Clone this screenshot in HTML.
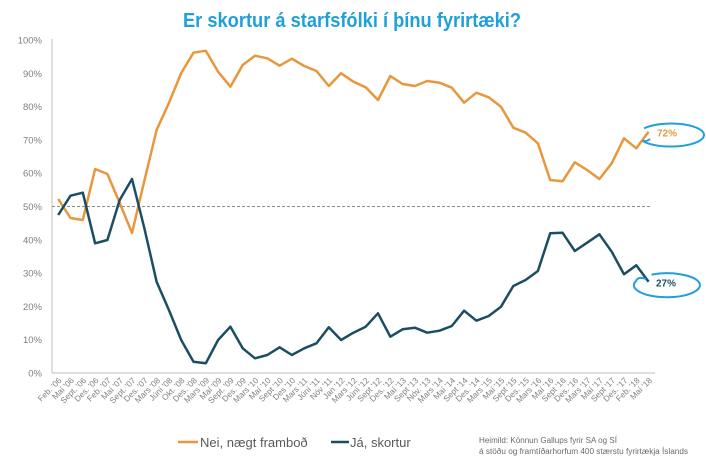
<!DOCTYPE html>
<html>
<head>
<meta charset="utf-8">
<style>
  html,body{margin:0;padding:0;background:#fff;}
  svg{display:block;}
  text{font-family:"Liberation Sans",sans-serif;}
</style>
</head>
<body>
<svg width="706" height="465" viewBox="0 0 706 465" xmlns="http://www.w3.org/2000/svg">
  <rect width="706" height="465" fill="#fff"/>
  <!-- Title -->
  <text x="352" y="27" text-anchor="middle" font-size="20" font-weight="bold" fill="#1fa0d8" textLength="338" lengthAdjust="spacingAndGlyphs">Er skortur á starfsfólki í þínu fyrirtæki?</text>

  <!-- Y axis labels -->
  <g font-size="9.5" fill="#7f7f7f" text-anchor="end">
    <text x="42" y="43.5">100%</text>
    <text x="42" y="76.8">90%</text>
    <text x="42" y="110.1">80%</text>
    <text x="42" y="143.4">70%</text>
    <text x="42" y="176.7">60%</text>
    <text x="42" y="210">50%</text>
    <text x="42" y="243.3">40%</text>
    <text x="42" y="276.6">30%</text>
    <text x="42" y="309.9">20%</text>
    <text x="42" y="343.2">10%</text>
    <text x="42" y="376.5">0%</text>
  </g>

  <!-- axes -->
  <line x1="52" y1="39" x2="52" y2="373" stroke="#bfbfbf" stroke-width="1"/>
  <line x1="52" y1="373" x2="655" y2="373" stroke="#bfbfbf" stroke-width="1"/>
  <!-- 50% dashed -->
  <line x1="52" y1="206.5" x2="651" y2="206.5" stroke="#8c8c8c" stroke-width="1" stroke-dasharray="3,2"/>

  <!-- Orange series -->
  <polyline fill="none" stroke="#e8973c" stroke-width="2.5" stroke-linejoin="round" points="
58.2,199 70.5,218 82.8,220 95.1,169 107.4,174 119.7,203 132,233 144.3,181 156.6,130 168.9,103
181.2,73 193.5,52.7 205.8,50.7 218.1,71.7 230.4,86.7 242.7,65 255,55.7 267.3,58.3 279.6,65.7 291.9,58.7
304.2,66 316.5,71 328.8,86 341.1,73.3 353.4,81.7 365.7,87.3 378,100 390.3,76 402.6,84 414.9,86
427.2,81 439.5,82.7 451.8,87.7 464.1,102.7 476.4,92.7 488.7,97.3 501,106.7 513.3,127.7 525.6,132.7 537.9,143.3
550.2,180 562.5,181.3 574.8,162.3 587.1,170 599.4,179 611.7,163.3 624,138.3 636.3,148.3 648.6,131.7"/>

  <!-- Blue series -->
  <polyline fill="none" stroke="#1c4e63" stroke-width="2.5" stroke-linejoin="round" points="
58.2,215 70.5,195.7 82.8,192.7 95.1,243.3 107.4,240 119.7,200 132,179 144.3,228 156.6,281.7 168.9,310
181.2,340 193.5,361.7 205.8,363.3 218.1,340 230.4,326.7 242.7,348.3 255,358.3 267.3,355 279.6,347.3 291.9,355
304.2,348.3 316.5,343.3 328.8,327.3 341.1,340 353.4,332.7 365.7,326.7 378,313.3 390.3,336.7 402.6,329.3 414.9,327.7
427.2,332.7 439.5,330.7 451.8,326 464.1,310.7 476.4,320.7 488.7,316 501,306.7 513.3,286 525.6,280 537.9,271
550.2,233.3 562.5,232.7 574.8,251 587.1,242.7 599.4,234.3 611.7,251.7 624,274.3 636.3,265.3 648.6,281.7"/>

  <!-- annotations -->
  <path d="M 644,128.4 A 33 11.5 0 1 1 642.4,140.8 Q 646,142 650,139" fill="none" stroke="#1fa0d8" stroke-width="2"/>
  <text x="657" y="136.5" font-size="10" font-weight="bold" fill="#e8973c">72%</text>
  <path d="M 651.5,274.6 A 33 12 0 1 1 636,281 Q 638,276 646,279" fill="none" stroke="#1fa0d8" stroke-width="2"/>
  <text x="656" y="286.5" font-size="10" font-weight="bold" fill="#1c4e63">27%</text>

  <!-- X labels -->
  <g font-size="8.3" fill="#7f7f7f" text-anchor="end">
    <text x="62.2" y="381" transform="rotate(-45 62.2 381)">Feb. '06</text>
    <text x="74.5" y="381" transform="rotate(-45 74.5 381)">Maí '06</text>
    <text x="86.8" y="381" transform="rotate(-45 86.8 381)">Sept. '06</text>
    <text x="99.1" y="381" transform="rotate(-45 99.1 381)">Des. '06</text>
    <text x="111.4" y="381" transform="rotate(-45 111.4 381)">Feb. '07</text>
    <text x="123.7" y="381" transform="rotate(-45 123.7 381)">Maí '07</text>
    <text x="136" y="381" transform="rotate(-45 136 381)">Sept. '07</text>
    <text x="148.3" y="381" transform="rotate(-45 148.3 381)">Des. '07</text>
    <text x="160.6" y="381" transform="rotate(-45 160.6 381)">Mars '08</text>
    <text x="172.9" y="381" transform="rotate(-45 172.9 381)">Júní '08</text>
    <text x="185.2" y="381" transform="rotate(-45 185.2 381)">Okt. '08</text>
    <text x="197.5" y="381" transform="rotate(-45 197.5 381)">Des. '08</text>
    <text x="209.8" y="381" transform="rotate(-45 209.8 381)">Mars '09</text>
    <text x="222.1" y="381" transform="rotate(-45 222.1 381)">Maí '09</text>
    <text x="234.4" y="381" transform="rotate(-45 234.4 381)">Sept. '09</text>
    <text x="246.7" y="381" transform="rotate(-45 246.7 381)">Des. '09</text>
    <text x="259" y="381" transform="rotate(-45 259 381)">Mars '10</text>
    <text x="271.3" y="381" transform="rotate(-45 271.3 381)">Maí '10</text>
    <text x="283.6" y="381" transform="rotate(-45 283.6 381)">Sept '10</text>
    <text x="295.9" y="381" transform="rotate(-45 295.9 381)">Des '10</text>
    <text x="308.2" y="381" transform="rotate(-45 308.2 381)">Mars '11</text>
    <text x="320.5" y="381" transform="rotate(-45 320.5 381)">Júní '11</text>
    <text x="332.8" y="381" transform="rotate(-45 332.8 381)">Nóv '11</text>
    <text x="345.1" y="381" transform="rotate(-45 345.1 381)">Jan '12</text>
    <text x="357.4" y="381" transform="rotate(-45 357.4 381)">Mars '12</text>
    <text x="369.7" y="381" transform="rotate(-45 369.7 381)">Júní '12</text>
    <text x="382" y="381" transform="rotate(-45 382 381)">Sept '12</text>
    <text x="394.3" y="381" transform="rotate(-45 394.3 381)">Des. '12</text>
    <text x="406.6" y="381" transform="rotate(-45 406.6 381)">Maí '13</text>
    <text x="418.9" y="381" transform="rotate(-45 418.9 381)">Sept '13</text>
    <text x="431.2" y="381" transform="rotate(-45 431.2 381)">Nóv. '13</text>
    <text x="443.5" y="381" transform="rotate(-45 443.5 381)">Mars '14</text>
    <text x="455.8" y="381" transform="rotate(-45 455.8 381)">Maí '14</text>
    <text x="468.1" y="381" transform="rotate(-45 468.1 381)">Sept '14</text>
    <text x="480.4" y="381" transform="rotate(-45 480.4 381)">Des. '14</text>
    <text x="492.7" y="381" transform="rotate(-45 492.7 381)">Mars '15</text>
    <text x="505" y="381" transform="rotate(-45 505 381)">Maí '15</text>
    <text x="517.3" y="381" transform="rotate(-45 517.3 381)">Sept '15</text>
    <text x="529.6" y="381" transform="rotate(-45 529.6 381)">Des. '15</text>
    <text x="541.9" y="381" transform="rotate(-45 541.9 381)">Mars '16</text>
    <text x="554.2" y="381" transform="rotate(-45 554.2 381)">Maí '16</text>
    <text x="566.5" y="381" transform="rotate(-45 566.5 381)">Sept '16</text>
    <text x="578.8" y="381" transform="rotate(-45 578.8 381)">Des. '16</text>
    <text x="591.1" y="381" transform="rotate(-45 591.1 381)">Mars '17</text>
    <text x="603.4" y="381" transform="rotate(-45 603.4 381)">Maí '17</text>
    <text x="615.7" y="381" transform="rotate(-45 615.7 381)">Sept '17</text>
    <text x="628" y="381" transform="rotate(-45 628 381)">Des. '17</text>
    <text x="640.3" y="381" transform="rotate(-45 640.3 381)">Feb. '18</text>
    <text x="652.6" y="381" transform="rotate(-45 652.6 381)">Maí '18</text>
  </g>

  <!-- Legend -->
  <line x1="178" y1="442" x2="198" y2="442" stroke="#e8973c" stroke-width="2.5"/>
  <text x="200" y="447" font-size="13" fill="#595959">Nei, nægt framboð</text>
  <line x1="331" y1="442" x2="349" y2="442" stroke="#1c4e63" stroke-width="2.5"/>
  <text x="350" y="447" font-size="13" fill="#595959">Já, skortur</text>

  <!-- Source -->
  <text x="479" y="443" font-size="8" fill="#6b6b6b" textLength="138" lengthAdjust="spacingAndGlyphs">Heimild: Könnun Gallups fyrir SA og SÍ</text>
  <text x="479" y="454" font-size="8" fill="#6b6b6b" textLength="209" lengthAdjust="spacingAndGlyphs">á stöðu og framtíðarhorfum 400 stærstu fyrirtækja Íslands</text>
</svg>
</body>
</html>
